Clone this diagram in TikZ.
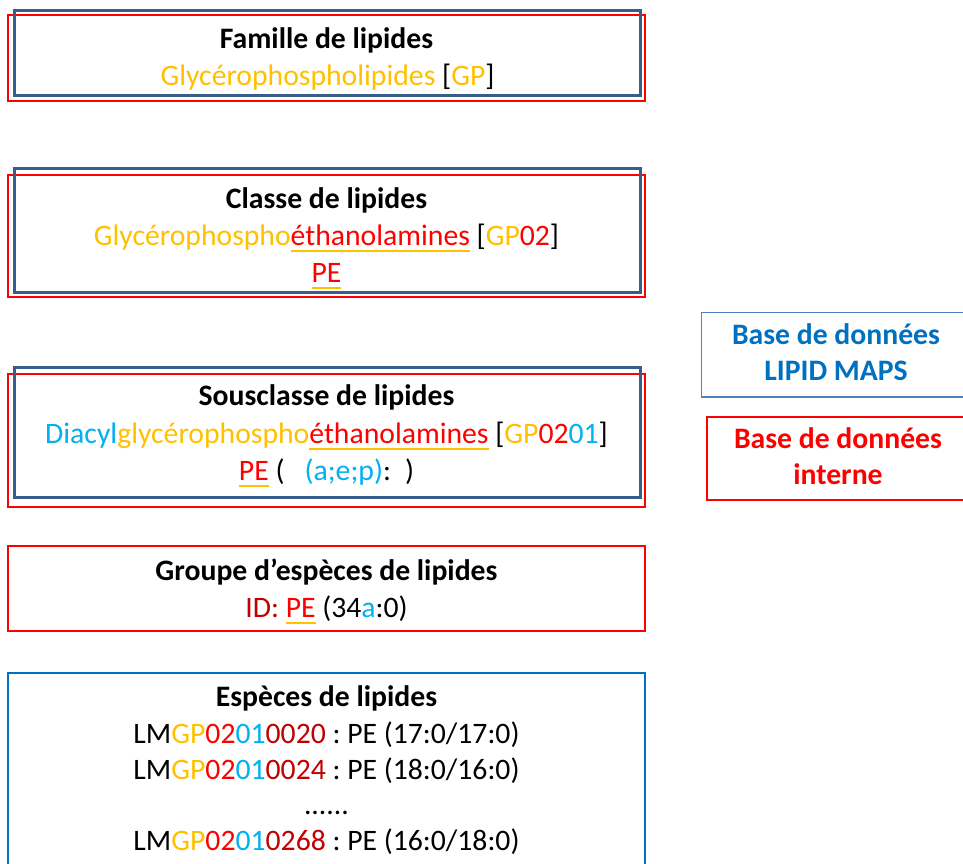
\documentclass[tikz,border=0pt]{standalone}
\usepackage{fontspec}
\setmainfont{Carlito}
\frenchspacing
\definecolor{gold}{HTML}{FFC000}
\definecolor{lred}{HTML}{FF0000}
\definecolor{lblue}{HTML}{00B0F0}
\definecolor{dred}{HTML}{C00000}
\definecolor{dkblue}{RGB}{56,93,138}
\definecolor{midblue}{HTML}{0070C0}
\definecolor{lgblue}{HTML}{4F81BD}
\newcommand\gul[1]{\leavevmode\setbox0\hbox{#1}\rlap{\textcolor{gold}{\rule[-7pt]{\wd0}{2pt}}}\box0\relax}
\begin{document}
\begin{tikzpicture}[x=1pt,y=-1pt,
  boxbase/.style={inner sep=0pt,outer sep=0pt,fill=none},
  redbox/.style={boxbase,draw=lred,line width=2pt},
  bluebox/.style={boxbase,draw=dkblue,line width=3pt},
  midbox/.style={boxbase,draw=midblue,line width=2pt},
  lgbox/.style={boxbase,draw=lgblue,line width=1.2pt},
  lrbox/.style={boxbase,draw=lred,line width=1.5pt},
  txt/.style={inner sep=0pt,outer sep=0pt,anchor=base,font=\fontsize{29.7}{37}\selectfont},
  hd/.style={txt,font=\fontsize{29.7}{37}\selectfont\bfseries}]
\useasboundingbox (0,0) rectangle (963,863);
% boxes
\node[redbox,minimum width=637pt,minimum height=86pt] (r1) at (326.5,58) {};
\node[bluebox,minimum width=625.5pt,minimum height=85pt] (b1) at (327.25,53) {};
\node[redbox,minimum width=637pt,minimum height=122pt] (r2) at (326.5,236) {};
\node[bluebox,minimum width=625.5pt,minimum height=124pt] (b2) at (327.25,230) {};
\node[redbox,minimum width=637pt,minimum height=133pt] (r3) at (326.5,440.5) {};
\node[bluebox,minimum width=625.5pt,minimum height=130pt] (b3) at (327.25,432) {};
\node[redbox,minimum width=637pt,minimum height=85pt] (r4) at (326.5,588.5) {};
\node[midbox,minimum width=637pt,minimum height=207pt] (b5) at (326.5,776.5) {};
\node[lgbox,minimum width=273.5pt,minimum height=84.5pt] (lg1) at (838.25,354.75) {};
\node[lrbox,minimum width=268pt,minimum height=83pt] (lg2) at (841,458.5) {};
% box 1
\node[hd] (t11) at (326.5,48) {Famille de lipides};
\node[txt] (t12) at (327.5,85) {\textcolor{gold}{Glycérophospholipides} [\textcolor{gold}{GP}]};
% box 2
\node[hd] (t21) at (326.5,208) {Classe de lipides};
\node[txt] (t22) at (326.5,245) {\textcolor{gold}{Glycérophospho}\gul{\textcolor{lred}{éthanolamines}} [\textcolor{gold}{GP}\textcolor{lred}{02}]};
\node[txt] (t23) at (326.5,282) {\gul{\textcolor{lred}{PE}}};
% box 3
\node[hd] (t31) at (326.5,405) {Sousclasse de lipides};
\node[txt] (t32) at (326.5,443) {\textcolor{lblue}{Diacyl}\textcolor{gold}{glycérophospho}\gul{\textcolor{lred}{éthanolamines}} [\textcolor{gold}{GP}\textcolor{lred}{02}\textcolor{lblue}{01}]};
\node[txt] (t33) at (326.5,480) {\gul{\textcolor{lred}{PE}} (\hspace{20pt}\textcolor{lblue}{(a;e;p)}:\hspace{14pt})};
% box 4
\node[hd] (t41) at (326.5,580) {Groupe d’espèces de lipides};
\node[txt] (t42) at (326.5,617) {\textcolor{dred}{ID:} \gul{\textcolor{lred}{PE}} (34\textcolor{lblue}{a}:0)};
% box 5
\node[hd] (t51) at (326.5,706) {Espèces de lipides};
\node[txt] (t52) at (326.5,743) {LM\textcolor{gold}{GP}\textcolor{lred}{02}\textcolor{lblue}{01}\textcolor{dred}{0020} : PE (17:0/17:0)};
\node[txt] (t53) at (326.5,779) {LM\textcolor{gold}{GP}\textcolor{lred}{02}\textcolor{lblue}{01}\textcolor{dred}{0024} : PE (18:0/16:0)};
\node[txt] (t54) at (326.5,814) {......};
\node[txt] (t55) at (326.5,850) {LM\textcolor{gold}{GP}\textcolor{lred}{02}\textcolor{lblue}{01}\textcolor{dred}{0268} : PE (16:0/18:0)};
% legend
\node[hd,text=midblue] (l11) at (836,344) {Base de données};
\node[hd,text=midblue] (l12) at (836,380) {LIPID MAPS};
\node[hd,text=lred] (l21) at (838,448) {Base de données};
\node[hd,text=lred] (l22) at (838,484) {interne};
\end{tikzpicture}
\end{document}
